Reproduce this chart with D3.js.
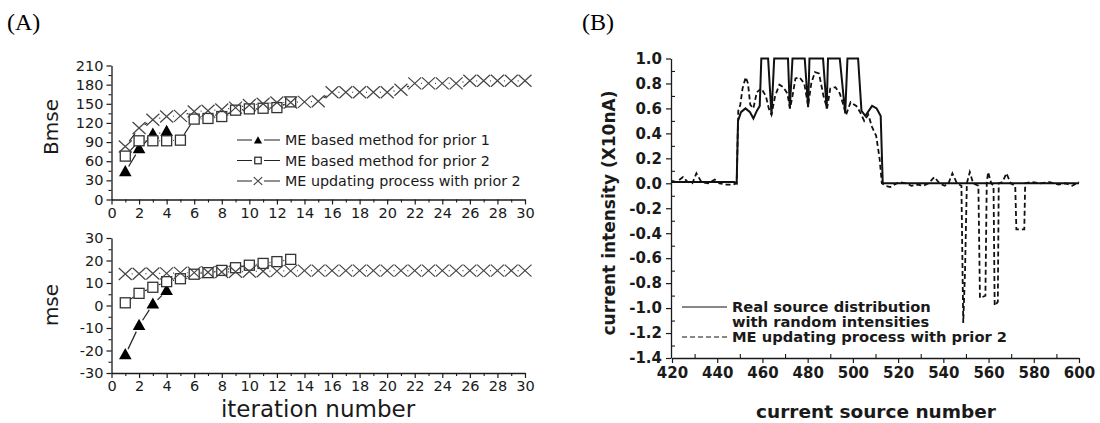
<!DOCTYPE html>
<html>
<head>
<meta charset="utf-8">
<script src="https://cdn.jsdelivr.net/npm/d3@7"></script>
<style>
body { margin: 0; background: #fff; }
</style>
</head>
<body>
<svg id="chart" width="1100" height="423"></svg>
<script>
// ---- panel A: iteration results ----
var iterations = [1, 2, 3, 4, 5, 6, 7, 8, 9, 10, 11, 12, 13, 14, 15,
                  16, 17, 18, 19, 20, 21, 22, 23, 24, 25, 26, 27, 28, 29, 30];
var bmsePrior1 = [43, 79, 102, 106];
var bmsePrior2 = [68, 92, 92, 92, 93, 126, 127, 130, 140, 142, 143, 144, 153];
var bmseUpdate = [83, 112, 125, 130, 131, 138, 139, 141, 144, 148, 150, 152, 152, 153, 154,
                  168, 168, 168, 168, 168, 172, 182, 182, 182, 182, 186, 186, 186, 186, 186];
var msePrior1 = [-22, -9, 0.5, 6.5];
var msePrior2 = [1.2, 5.4, 8.1, 10.6, 11.9, 13.9, 14.6, 15.6, 16.8, 17.9, 18.7, 19.5, 20.5];
var mseUpdate = [14.0, 14.1, 14.2, 14.3, 14.5, 14.6, 14.8, 14.9, 15.0, 15.1, 15.2, 15.3, 15.4, 15.5, 15.5,
                 15.5, 15.5, 15.5, 15.5, 15.5, 15.5, 15.5, 15.5, 15.5, 15.5, 15.5, 15.5, 15.5, 15.5, 15.5];
var legendA = ["ME based method for prior 1", "ME based method for prior 2", "ME updating process with prior 2"];
var iterTicks = [0, 2, 4, 6, 8, 10, 12, 14, 16, 18, 20, 22, 24, 26, 28, 30];
var bmseTicks = [0, 30, 60, 90, 120, 150, 180, 210];
var mseTicks = [-30, -20, -10, 0, 10, 20, 30];

// ---- panel B: source distribution ----
var srcX = [420, 447.5, 448.6, 449.2, 450.5, 452.5, 454.5, 456, 457.5, 458.8,
            459.5, 462.5, 464, 465.2, 471.3, 472.1, 473.3, 478.7, 480.2, 480.8,
            486.8, 488.4, 489, 494.2, 496.6, 497.6, 502.3, 503.8, 505.5, 508.5,
            510.5, 512.3, 513.2, 600];
var srcY = [0.01, 0.01, 0.0, 0.5, 0.57, 0.6, 0.57, 0.52, 0.58, 0.62,
            1.0, 1.0, 0.55, 1.0, 1.0, 0.6, 1.0, 1.0, 0.61, 1.0,
            1.0, 0.6, 1.0, 1.0, 0.56, 1.0, 1.0, 0.58, 0.54, 0.62,
            0.6, 0.54, 0.0, 0.0];
var updX = [420, 422, 424.9, 427, 429, 430.8, 433, 436, 438.9, 441,
            444, 447, 448.6, 449.3, 450.2, 451.2, 452.6, 453.6, 454.6, 456,
            457.5, 459.5, 461.5, 462.8, 464, 465.6, 467.5, 469.2, 471, 472.2,
            473.3, 474.6, 476.4, 478.5, 480.2, 481.6, 483.2, 485, 487, 488.6,
            490, 492.3, 494.2, 495.6, 497, 499, 501.5, 503.2, 505, 506.8,
            508.5, 510.3, 511.8, 512.8, 514.5, 516.5, 518.5, 520.7, 523.5, 525.9,
            528.5, 531, 533.5, 536, 538.3, 540.6, 542.3, 544, 546, 548,
            548.8, 549.6, 550.4, 551.7, 553.2, 555.5, 556.2, 558.6, 559.2, 559.8,
            561.2, 562.2, 562.7, 564.1, 564.5, 566.2, 567.9, 569.8, 571.8, 572.3,
            575.8, 576.2, 579, 583, 587, 591, 594, 597, 600];
var updY = [0.02, 0.01, 0.05, 0.01, 0.0, 0.08, 0.01, 0.0, 0.03, 0.0,
            -0.01, -0.01, 0.0, 0.58, 0.63, 0.76, 0.85, 0.8, 0.63, 0.6,
            0.73, 0.76, 0.7, 0.6, 0.55, 0.7, 0.79, 0.77, 0.72, 0.6,
            0.7, 0.84, 0.85, 0.8, 0.62, 0.8, 0.89, 0.88, 0.7, 0.6,
            0.76, 0.77, 0.72, 0.64, 0.55, 0.65, 0.62, 0.57, 0.5, 0.55,
            0.45, 0.38, 0.2, 0.0, -0.02, -0.03, -0.01, 0.01, 0.0, -0.02,
            -0.01, -0.02, 0.0, 0.05, 0.0, -0.02, 0.0, 0.08, 0.0, -0.02,
            -1.12, -0.7, 0.0, 0.09, 0.0, -0.02, -0.92, -0.9, 0.0, 0.09,
            0.0, -0.02, -0.98, -0.95, 0.0, 0.01, 0.08, 0.0, -0.02, -0.37,
            -0.37, 0.0, 0.01, 0.0, 0.01, -0.01, 0.0, -0.02, 0.01];
var sourceTicks = [420, 440, 460, 480, 500, 520, 540, 560, 580, 600];
var intensityTicks = [-1.4, -1.2, -1.0, -0.8, -0.6, -0.4, -0.2, 0.0, 0.2, 0.4, 0.6, 0.8, 1.0];

var svg = d3.select("#chart");
var fontA = "DejaVu Sans";
var ink = "#1a1a1a";

function styleAxis(g, size, weight) {
  g.select(".domain").attr("stroke", ink).attr("stroke-width", 1.3);
  g.selectAll(".tick line").attr("stroke", ink).attr("stroke-width", 1.2);
  g.selectAll(".tick text")
    .attr("font-family", fontA)
    .attr("font-size", size + "px")
    .attr("font-weight", weight)
    .attr("fill", ink);
}

function minorAxis(axis, y0, x0, values, size) {
  var g = svg.append("g").attr("transform", "translate(" + x0 + "," + y0 + ")")
    .call(axis.tickValues(values).tickSize(size).tickFormat(""));
  g.select(".domain").remove();
  g.selectAll(".tick line").attr("stroke", ink).attr("stroke-width", 1.1);
}

// line with small gaps around each marker, like the original plot
function gapLine(xs, ys, x, y, gap, dash) {
  for (var i = 0; i < xs.length - 1; i++) {
    var x1 = x(xs[i]), y1 = y(ys[i]), x2 = x(xs[i + 1]), y2 = y(ys[i + 1]);
    var dx = x2 - x1, dy = y2 - y1;
    var len = Math.sqrt(dx * dx + dy * dy);
    if (len <= 2 * gap) continue;
    var ux = dx / len, uy = dy / len;
    svg.append("line")
      .attr("x1", x1 + ux * gap).attr("y1", y1 + uy * gap)
      .attr("x2", x2 - ux * gap).attr("y2", y2 - uy * gap)
      .attr("stroke", "#222")
      .attr("stroke-width", 1.2);
  }
}

function marker(kind, cx, cy, s) {
  if (kind == "tri") {
    svg.append("path")
      .attr("d", "M0," + (-7 * s) + "L" + (6.3 * s) + "," + (4.2 * s) + "L" + (-6.3 * s) + "," + (4.2 * s) + "Z")
      .attr("transform", "translate(" + cx + "," + cy + ")")
      .attr("fill", "#000");
  }
  else if (kind == "sq") {
    svg.append("rect")
      .attr("x", cx - 5 * s).attr("y", cy - 5 * s)
      .attr("width", 10 * s).attr("height", 10 * s)
      .attr("fill", "#fff")
      .attr("stroke", "#333")
      .attr("stroke-width", 1.3);
  }
  else {
    var a = 6.5 * s, b = 6 * s;
    svg.append("path")
      .attr("d", "M" + (-a) + "," + (-b) + "L" + a + "," + b + "M" + (-a) + "," + b + "L" + a + "," + (-b))
      .attr("transform", "translate(" + cx + "," + cy + ")")
      .attr("fill", "none")
      .attr("stroke", "#444")
      .attr("stroke-width", 1.2);
  }
}

function series(kind, vals, x, y) {
  var xs = iterations.slice(0, vals.length);
  gapLine(xs, vals, x, y, 6.5);
  for (var i = 0; i < vals.length; i++) {
    marker(kind, x(xs[i]), y(vals[i]), 1);
  }
}

function drawIterPlot(y, yTicks, yMinor, title, titleY) {
  var x = d3.scaleLinear().domain([0, 30]).range([111.5, 525]);
  var y0 = y.range()[0];
  var gx = svg.append("g").attr("transform", "translate(0," + y0 + ")")
    .call(d3.axisBottom(x).tickValues(iterTicks).tickSizeInner(5).tickSizeOuter(0).tickPadding(3).tickFormat(d3.format("d")));
  styleAxis(gx, 14.5, "normal");
  minorAxis(d3.axisBottom(x), y0, 0, d3.range(1, 30, 2), 3);
  var gy = svg.append("g").attr("transform", "translate(111.5,0)")
    .call(d3.axisLeft(y).tickValues(yTicks).tickSizeInner(5).tickSizeOuter(0).tickPadding(3)
      .tickFormat(function (d) { return String(d); }));
  styleAxis(gy, 14.5, "normal");
  minorAxis(d3.axisLeft(y), 0, 111.5, yMinor, 3);
  svg.append("text")
    .attr("transform", "translate(58," + titleY + ") rotate(-90)")
    .attr("text-anchor", "middle")
    .attr("font-family", fontA)
    .attr("font-size", "20px")
    .attr("fill", ink)
    .text(title);
  return x;
}

// ---- panel A top: Bmse ----
var yB = d3.scaleLinear().domain([0, 210]).range([199.5, 65.5]);
var xA = drawIterPlot(yB, bmseTicks, d3.range(15, 210, 30), "Bmse", 127);
series("tri", bmsePrior1, xA, yB);
series("sq", bmsePrior2, xA, yB);
series("x", bmseUpdate, xA, yB);

// legend
var kinds = ["tri", "sq", "x"];
for (var k = 0; k < legendA.length; k++) {
  var ly = 140 + k * 20.5;
  svg.append("line").attr("x1", 237).attr("x2", 280).attr("y1", ly).attr("y2", ly)
    .attr("stroke", "#222").attr("stroke-width", 1.2);
  svg.append("rect").attr("x", 252).attr("y", ly - 5).attr("width", 12).attr("height", 10).attr("fill", "#fff");
  marker(kinds[k], 258, ly + (k == 0 ? 0.8 : 0), 0.65);
  svg.append("text")
    .attr("x", 285).attr("y", ly + 5)
    .attr("font-family", fontA)
    .attr("font-size", "14.3px")
    .attr("fill", ink)
    .text(legendA[k]);
}

// ---- panel A bottom: mse ----
var yM = d3.scaleLinear().domain([-30, 30]).range([373, 238]);
drawIterPlot(yM, mseTicks, d3.range(-25, 30, 10), "mse", 305);
series("tri", msePrior1, xA, yM);
series("sq", msePrior2, xA, yM);
series("x", mseUpdate, xA, yM);

svg.append("text")
  .attr("x", 318).attr("y", 417)
  .attr("text-anchor", "middle")
  .attr("font-family", fontA)
  .attr("font-size", "23px")
  .attr("fill", ink)
  .text("iteration number");

// ---- panel B ----
var xS = d3.scaleLinear().domain([420, 600]).range([672, 1079]);
var yI = d3.scaleLinear().domain([-1.4, 1.0]).range([358, 58.5]);

var gxB = svg.append("g").attr("transform", "translate(0,358)")
  .call(d3.axisBottom(xS).tickValues(sourceTicks).tickSizeInner(5).tickSizeOuter(0).tickPadding(4).tickFormat(d3.format("d")));
styleAxis(gxB, 15, "bold");
minorAxis(d3.axisBottom(xS), 358, 0, d3.range(430, 600, 20), -4);
var gyB = svg.append("g").attr("transform", "translate(671,0)")
  .call(d3.axisLeft(yI).tickValues(intensityTicks).tickSizeInner(5).tickSizeOuter(0).tickPadding(4)
    .tickFormat(function (d) { return d.toFixed(1); }));
styleAxis(gyB, 15, "bold");
minorAxis(d3.axisLeft(yI), 0, 671, d3.range(-13, 10, 2).map(function (d) { return d / 10; }), -4);

var lineB = d3.line().x(function (d) { return xS(d[0]); }).y(function (d) { return yI(d[1]); });
svg.append("path")
  .datum(d3.zip(srcX, srcY))
  .attr("d", lineB)
  .attr("fill", "none")
  .attr("stroke", "#111")
  .attr("stroke-width", 2);
svg.append("path")
  .datum(d3.zip(updX, updY))
  .attr("d", lineB)
  .attr("fill", "none")
  .attr("stroke", "#111")
  .attr("stroke-width", 1.8)
  .attr("stroke-dasharray", "5,3");

// legend B
svg.append("line").attr("x1", 682).attr("x2", 727).attr("y1", 307).attr("y2", 307)
  .attr("stroke", "#111").attr("stroke-width", 1.2);
svg.append("line").attr("x1", 682).attr("x2", 727).attr("y1", 337).attr("y2", 337)
  .attr("stroke", "#111").attr("stroke-width", 1.2).attr("stroke-dasharray", "5,3");
var legB = [["Real source distribution", 312], ["with random intensities", 327], ["ME updating process with prior 2", 342]];
legB.forEach(function (t) {
  svg.append("text")
    .attr("x", 732).attr("y", t[1])
    .attr("font-family", fontA)
    .attr("font-weight", "bold")
    .attr("font-size", "14.7px")
    .attr("fill", ink)
    .text(t[0]);
});

svg.append("text")
  .attr("x", 876).attr("y", 418)
  .attr("text-anchor", "middle")
  .attr("font-family", fontA)
  .attr("font-weight", "bold")
  .attr("font-size", "18.5px")
  .attr("fill", ink)
  .text("current source number");
svg.append("text")
  .attr("transform", "translate(615,213) rotate(-90)")
  .attr("text-anchor", "middle")
  .attr("font-family", fontA)
  .attr("font-weight", "bold")
  .attr("font-size", "17px")
  .attr("fill", ink)
  .text("current intensity (X10nA)");

// panel letters
svg.append("text").attr("x", 7).attr("y", 30)
  .attr("font-family", "Liberation Serif").attr("font-size", "24px").attr("fill", "#000").text("(A)");
svg.append("text").attr("x", 582).attr("y", 30)
  .attr("font-family", "Liberation Serif").attr("font-size", "24px").attr("fill", "#000").text("(B)");
</script>
</body>
</html>
